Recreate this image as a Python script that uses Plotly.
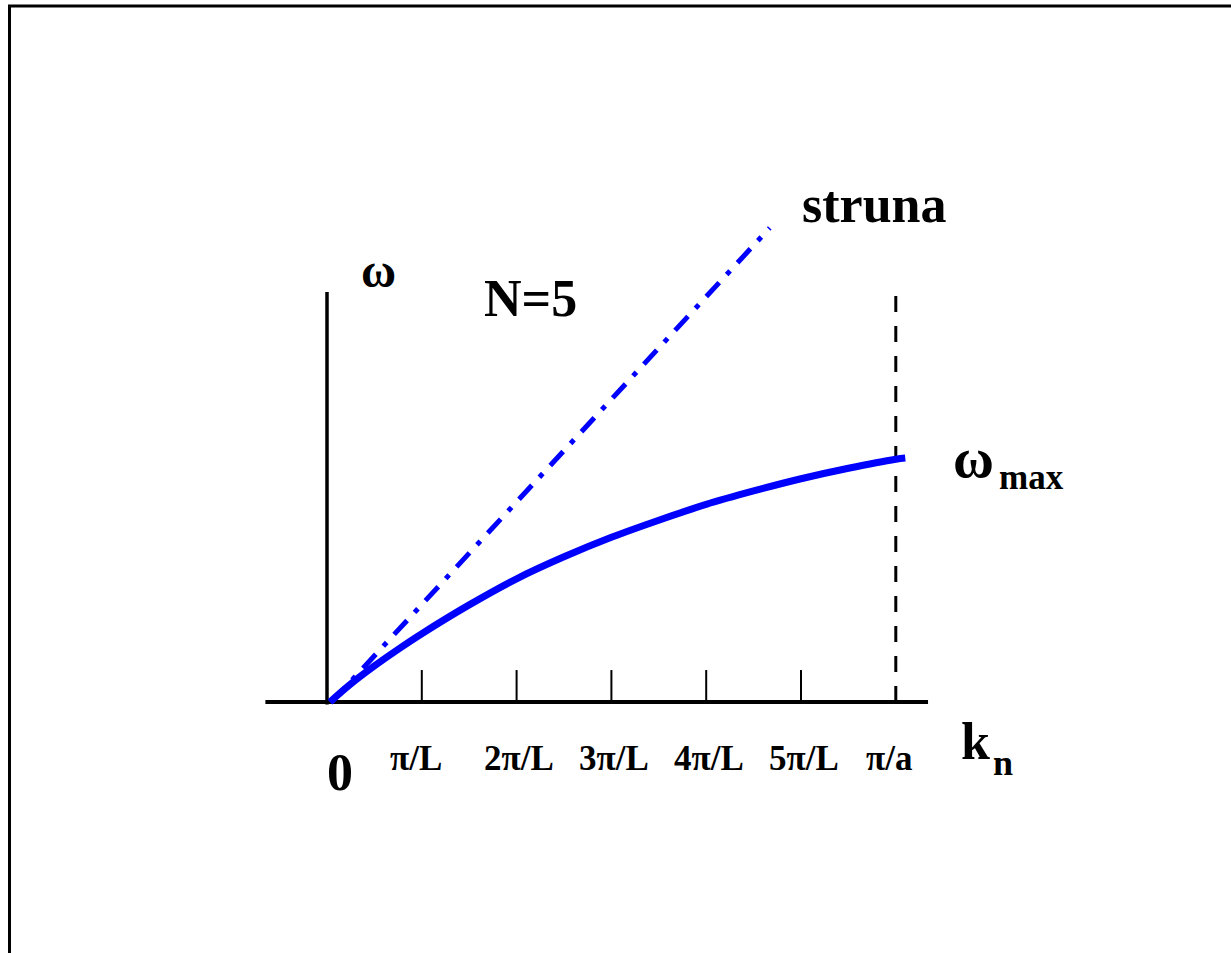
import plotly.graph_objects as go

# ---- data (k in units of pi/L, omega in units of omega_max) ----
k_curve = [0.03, 0.25, 0.5, 0.75, 1.0, 1.5, 2.0, 2.5, 3.0, 3.5, 4.0, 4.5, 5.0, 5.5, 6.0, 6.1]
w_curve = [0.0, 0.074, 0.148, 0.216, 0.28, 0.398, 0.505, 0.595, 0.675, 0.745, 0.81, 0.865,
           0.915, 0.958, 0.995, 1.0]

k_string = [0.05, 4.67]
w_string = [0.0, 1.943]

tick_k = [1, 2, 3, 4, 5, 6]
tick_labels = ["π/L", "2π/L", "3π/L", "4π/L", "5π/L", "π/a"]

k_axis_range = [-0.65, 6.34]
w_axis_top = 1.68
tick_height = 0.131
k_max = 6

FONT = "Liberation Serif, Times New Roman, serif"

fig = go.Figure()

# axes
fig.add_trace(go.Scatter(x=k_axis_range, y=[0, 0], mode="lines",
                         line=dict(color="black", width=4), hoverinfo="skip"))
fig.add_trace(go.Scatter(x=[0, 0], y=[-0.01, w_axis_top], mode="lines",
                         line=dict(color="black", width=3.5), hoverinfo="skip"))
# ticks
tx, ty = [], []
for k in tick_k[:-1]:
    tx += [k, k, None]
    ty += [0, tick_height, None]
fig.add_trace(go.Scatter(x=tx, y=ty, mode="lines",
                         line=dict(color="black", width=2), hoverinfo="skip"))
# dashed boundary line at pi/a
fig.add_trace(go.Scatter(x=[k_max, k_max], y=[0, w_axis_top], mode="lines",
                         line=dict(color="black", width=3, dash="16px,14px"), hoverinfo="skip"))
# string (linear) dispersion
fig.add_trace(go.Scatter(x=k_string, y=w_string, mode="lines",
                         line=dict(color="#0000FF", width=5, dash="19px,11px,5px,11px"),
                         hoverinfo="skip"))
# chain dispersion
fig.add_trace(go.Scatter(x=k_curve, y=w_curve, mode="lines", line_shape="spline",
                         line=dict(color="#0000FF", width=7), hoverinfo="skip"))

ann = []
def label(x, y, text, size, xanchor="center"):
    ann.append(dict(x=x, y=y, xref="x", yref="y", text="<b>" + text + "</b>",
                    showarrow=False, xanchor=xanchor, yanchor="middle",
                    font=dict(family=FONT, size=size, color="black")))

label_dx = [-0.063, 0.03, 0.03, 0.03, 0.03, -0.074]
for k, t, dx in zip(tick_k, tick_labels, label_dx):
    label(k + dx, -0.23, t, 35)
label(0.14, -0.29, "0", 52)
label(0.54, 1.77, "ω", 48)
label(2.15, 1.652, "N=5", 52)
label(5.77, 2.04, "struna", 52)
label(6.82, 1.0, "ω", 56)
label(7.43, 0.92, "max", 35)
label(6.84, -0.16, "k", 52)
label(7.13, -0.25, "n", 36)

fig.update_layout(
    width=1231, height=953,
    margin=dict(l=0, r=0, t=0, b=0),
    paper_bgcolor="white", plot_bgcolor="white",
    showlegend=False,
    xaxis=dict(range=[-327 / 94.8, (1231 - 327) / 94.8], visible=False, fixedrange=True),
    yaxis=dict(range=[-251 / 244, 702 / 244], visible=False, fixedrange=True),
    annotations=ann,
    shapes=[dict(type="rect", xref="paper", yref="paper",
                 x0=9.5 / 1231, x1=1.05, y0=-0.05, y1=1 - 6 / 953,
                 line=dict(color="black", width=3))],
)

fig.write_html("out.html")
